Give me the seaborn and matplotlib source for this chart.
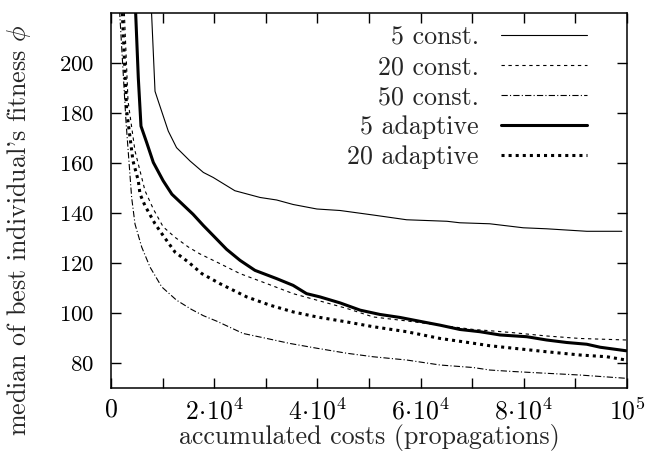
import matplotlib
matplotlib.use('Agg')
import matplotlib.pyplot as plt
import matplotlib.ticker as mticker
import seaborn as sns

# accumulated costs (propagations) and median best fitness
const5_x = [7000, 8530, 9170, 11100, 12700, 15300, 17900, 19800, 24000, 28900, 32100,
            35300, 39900, 44400, 50800, 57300, 65100, 67600, 73400, 79900, 84400, 92200, 99000]
const5_y = [260, 188.6, 184.6, 172.7, 166.1, 160.8, 156.2, 154.2, 148.9, 146.2, 145.2,
            143.4, 141.6, 141.0, 139.2, 137.3, 136.7, 136.1, 135.7, 134.1, 133.7, 132.7, 132.7]

const20_x = [2000, 2600, 3300, 4650, 6590, 8200, 10100, 12400, 15000, 17200, 21100, 25000,
             30200, 35300, 39900, 45700, 50800, 57300, 63800, 70200, 73400, 78000, 84400, 90900, 99800]
const20_y = [260, 219.3, 184.7, 164.8, 148.9, 141.6, 134.5, 130.3, 126.4, 123.7, 119.8, 115.8,
             111.8, 107.8, 105.2, 101.9, 98.5, 96.9, 95.2, 93.5, 93.0, 92.2, 90.9, 89.9, 89.3]

const50_x = [1200, 1700, 2900, 4000, 4650, 5950, 7560, 9830, 12700, 15600, 17900, 20500, 25600,
             30200, 34700, 39900, 45700, 50800, 57300, 63800, 70200, 73400, 78000, 84400, 90900, 99800]
const50_y = [260, 219.3, 176.7, 146.2, 135.6, 126.4, 118.4, 110.5, 105.2, 101.5, 99.0, 96.8, 91.9,
             89.9, 87.9, 86.0, 84.0, 82.6, 81.3, 79.3, 78.3, 77.3, 76.7, 76.0, 75.3, 74.0]

adapt5_x = [4400, 4790, 5290, 5810, 6920, 8200, 10100, 11800, 13700, 15900, 17900, 19800, 22400,
            25000, 27900, 32100, 35300, 37900, 40500, 44400, 48300, 52100, 56000, 60500, 63800,
            67600, 71500, 75400, 80600, 84400, 88300, 92200, 94800, 99800]
adapt5_y = [260, 219.2, 194.0, 174.7, 168.1, 160.2, 152.9, 147.5, 143.8, 139.5, 135.0, 131.0, 125.5,
            121.1, 117.1, 113.8, 111.1, 107.8, 106.5, 104.1, 101.2, 99.5, 98.3, 96.5, 95.2,
            93.5, 92.6, 91.3, 90.6, 89.3, 88.3, 87.6, 86.4, 85.0]

adapt20_x = [1700, 2200, 3040, 4260, 5290, 5620, 6590, 8530, 10100, 12400, 15000, 17600, 21100,
             26300, 30800, 35300, 39900, 45700, 50800, 57300, 63800, 70200, 73400, 78000, 84400,
             90900, 96100, 99800]
adapt20_y = [260, 219.5, 180.7, 160.8, 152.9, 147.6, 142.9, 135.7, 131.0, 124.4, 120.4, 115.8, 111.8,
             106.5, 103.2, 100.5, 98.5, 96.5, 94.6, 92.6, 89.9, 88.0, 87.0, 86.0, 84.6,
             83.3, 82.6, 81.3]

labels = ['5 const.', '20 const.', '50 const.', '5 adaptive', '20 adaptive']
y_ticks = [80, 100, 120, 140, 160, 180, 200]

sns.set_style('ticks')
plt.rcParams['font.family'] = ['cmr10', 'DejaVu Serif']
plt.rcParams['mathtext.fontset'] = 'cm'
plt.rcParams['axes.unicode_minus'] = False
plt.rcParams['lines.scale_dashes'] = False

fig = plt.figure(figsize=(6.45, 4.57), dpi=100)
ax = fig.add_axes([0.1721, 0.1503, 0.8, 0.822])

thin, thick = 0.8, 2.2
sns.lineplot(x=const5_x, y=const5_y, ax=ax, color='black', lw=thin, label=labels[0])
sns.lineplot(x=const20_x, y=const20_y, ax=ax, color='black', lw=thin,
             linestyle=(0, (2.4, 2.6)), label=labels[1])
sns.lineplot(x=const50_x, y=const50_y, ax=ax, color='black', lw=thin,
             linestyle=(0, (4.5, 1.6, 0.8, 1.6)), label=labels[2])
sns.lineplot(x=adapt5_x, y=adapt5_y, ax=ax, color='black', lw=thick, label=labels[3])
sns.lineplot(x=adapt20_x, y=adapt20_y, ax=ax, color='black', lw=thick,
             linestyle=(0, (2.2, 2.9)), label=labels[4])
for line in ax.get_lines():
    line.set_dash_capstyle('butt')
    line.set_solid_joinstyle('round')

ax.set_xlim(0, 100000)
ax.set_ylim(70, 220)
ax.xaxis.set_major_locator(mticker.MultipleLocator(10000))
ax.set_yticks(y_ticks)


def xfmt(v, pos):
    k = int(round(v / 10000))
    if k == 0:
        return '$0$'
    if k == 10:
        return r'$10^5$'
    if k % 2:
        return ''
    return r'$%d\!\cdot\!10^4$' % k


fs = 18.7
ax.xaxis.set_major_formatter(mticker.FuncFormatter(xfmt))
ax.yaxis.set_major_formatter(mticker.FuncFormatter(lambda v, p: '$%d$' % v))
ax.tick_params(direction='in', length=7, width=1, top=True, right=True,
               colors='black')
ax.tick_params(axis='y', pad=12, labelsize=16.5)
ax.tick_params(axis='x', pad=7, labelsize=18.5)
for sp in ax.spines.values():
    sp.set_linewidth(1.1)
    sp.set_color('black')

ax.set_xlabel('accumulated costs (propagations)', fontsize=fs, labelpad=0)
ax.set_ylabel(r"median of best individual's fitness $\phi$", fontsize=fs)
ax.yaxis.set_label_coords(-0.152, 0.42)

ax.legend(loc='upper right', bbox_to_anchor=(0.922, 0.965), frameon=False,
          markerfirst=False, fontsize=fs, handlelength=3.3, handletextpad=0.85,
          labelspacing=0.24, borderpad=0, borderaxespad=0)

fig.savefig('out.png', dpi=100)
